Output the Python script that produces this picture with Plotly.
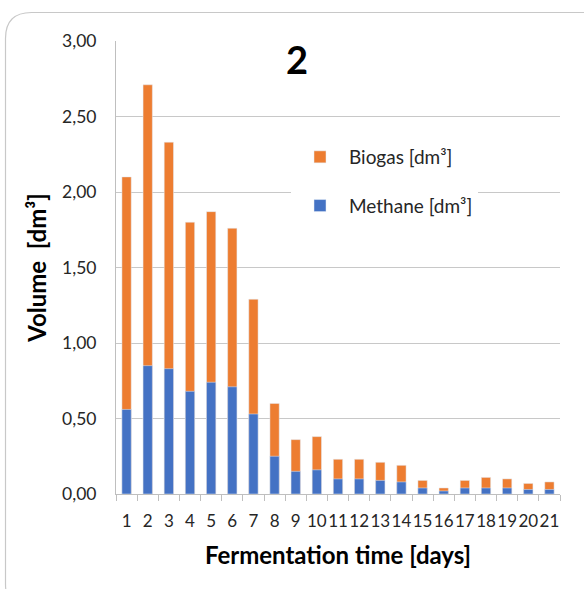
import plotly.graph_objects as go

days = [str(i) for i in range(1, 22)]
biogas = [2.10, 2.71, 2.33, 1.80, 1.87, 1.76, 1.29, 0.60, 0.36, 0.38, 0.23, 0.23,
          0.21, 0.19, 0.09, 0.04, 0.09, 0.11, 0.10, 0.07, 0.08]
methane = [0.56, 0.85, 0.83, 0.68, 0.74, 0.71, 0.53, 0.25, 0.15, 0.16, 0.10, 0.10,
           0.09, 0.08, 0.04, 0.02, 0.04, 0.04, 0.04, 0.03, 0.03]
y_ticks = [0, 0.5, 1.0, 1.5, 2.0, 2.5, 3.0]

FONT = "Lato"
W, H = 584, 589
L, R, T, B = 116, 24, 41, 95
pw, ph = W - L - R, H - T - B

def px(x):
    return (x - L) / pw

def py(y):
    return (H - B - y) / ph

fig = go.Figure()
fig.add_trace(go.Bar(x=days, y=biogas, name="Biogas [dm³]",
                     marker_color="#ED7D31", legendgroup="a"))
fig.add_trace(go.Bar(x=days, y=methane, name="Methane [dm³]",
                     marker_color="#4472C4", legendgroup="b"))

# rounded outer border
x0, y0, x1, y1, r = 5.5, 12.5, 610, 610, 26
path = (f"M {px(x0)},{py(y0 + r)} Q {px(x0)},{py(y0)} {px(x0 + r)},{py(y0)} "
        f"L {px(x1 - r)},{py(y0)} Q {px(x1)},{py(y0)} {px(x1)},{py(y0 + r)} "
        f"L {px(x1)},{py(y1 - r)} Q {px(x1)},{py(y1)} {px(x1 - r)},{py(y1)} "
        f"L {px(x0 + r)},{py(y1)} Q {px(x0)},{py(y1)} {px(x0)},{py(y1 - r)} Z")

fig.update_layout(
    width=W, height=H,
    margin=dict(l=L, r=R, t=T, b=B, autoexpand=False),
    paper_bgcolor="white", plot_bgcolor="white",
    barmode="overlay", bargap=0.56,
    separators=", ",
    font=dict(family=FONT, color="#404040", size=16),
    title=dict(text="<b>2</b>", x=px(297), xref="paper", xanchor="center",
               y=1 - 61 / H, yanchor="middle", yref="container",
               font=dict(family=FONT, size=38, color="black")),
    legend=dict(x=px(291), y=py(138), xanchor="left", yanchor="top",
                bgcolor="white", font=dict(family=FONT, size=19, color="#262626"),
                traceorder="grouped", tracegroupgap=21, itemclick=False,
                itemwidth=48),
    shapes=[dict(type="path", xref="paper", yref="paper", path=path,
                 line=dict(color="#c8c8c8", width=1.2), layer="above")],
    xaxis=dict(type="category", showgrid=False, showline=True, linecolor="#bfbfbf",
               linewidth=1, ticks="outside", tickson="boundaries", ticklen=6,
               tickcolor="#bfbfbf", tickangle=0,
               tickfont=dict(size=17, color="#262626"),
               ticklabelstandoff=12,
               title=dict(text="<b>Fermentation time [days]</b>", standoff=16,
                          font=dict(size=24, color="black"))),
    yaxis=dict(range=[0, 3], tickvals=y_ticks, tickformat=".2f", showgrid=True,
               gridcolor="#c8c8c8", gridwidth=1, showline=True, linecolor="#bfbfbf",
               zeroline=False, ticks="", ticklabelstandoff=15,
               tickfont=dict(size=17.5, color="#262626"),
               title=dict(text="<b>Volume\u00a0\u00a0[dm³]</b>", standoff=8,
                          font=dict(size=24, color="black"))),
)

fig.write_html("out.html", config={"displayModeBar": False},
               post_script="document.body.style.margin='0';document.body.style.overflow='hidden';")
